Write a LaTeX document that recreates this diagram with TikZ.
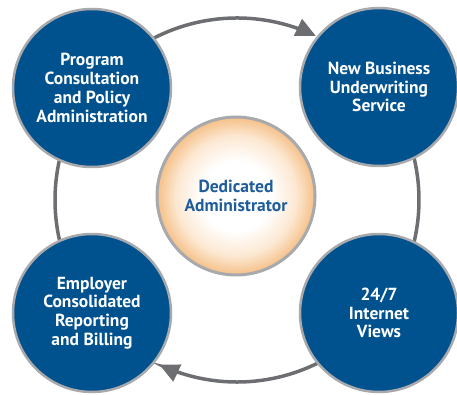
\documentclass[tikz,border=0pt]{standalone}
\usepackage{fontspec}
\setmainfont{PT Sans}
\usetikzlibrary{arrows.meta}
\definecolor{bluefill}{HTML}{00528F}
\definecolor{rimgray}{HTML}{A7A9AC}
\definecolor{ringgray}{HTML}{6D6E71}
\definecolor{centertext}{HTML}{1F5C9C}
\definecolor{glow}{HTML}{F5C088}
\definecolor{glowmid}{HTML}{FCE8D2}
\pgfdeclareradialshading{glowshade}{\pgfpoint{0bp}{0bp}}{color(0bp)=(white); color(11bp)=(white); color(19bp)=(glowmid); color(25bp)=(glow); color(50bp)=(glow)}
\tikzset{
  bluecircle/.style={circle, fill=bluefill, draw=rimgray, line width=2.5pt, minimum size=158pt, inner sep=0pt, text=white, align=center, font=\bfseries\fontsize{17.5}{18.8}\selectfont},
  centercircle/.style={circle, shading=glowshade, draw=rimgray, line width=3pt, minimum size=158pt, inner sep=0pt, text=centertext, align=center, font=\bfseries\fontsize{17.5}{19.5}\selectfont},
  ringline/.style={draw=ringgray, line width=3.5pt},
  ringarrow/.style={ringline, -{Triangle[length=20pt,width=18pt]}}
}
\begin{document}
\begin{tikzpicture}[x=1pt,y=1pt]
\useasboundingbox (0,0) rectangle (457,-395);
\coordinate (C) at (237,-200);
% ring arcs
\draw[ringline] (C) ++(142:182) arc[start angle=142, end angle=67, radius=182] coordinate (t1);
\draw[ringarrow] (t1) arc[start angle=67, end angle=64.3, radius=182];
\draw[ringline] (C) ++(38.5:182) arc[start angle=38.5, end angle=-38.5, radius=182];
\draw[ringline] (C) ++(-38.5:182) arc[start angle=-38.5, end angle=-112, radius=182] coordinate (t2);
\draw[ringarrow] (t2) arc[start angle=-112, end angle=-115.3, radius=182];
\draw[ringline] (C) ++(218.5:182) arc[start angle=218.5, end angle=141.5, radius=182];
% nodes
\node[centercircle] (center) at (236,-196) {Dedicated\\Administrator};
\node[bluecircle] (tl) at (92,-88) {Program\\Consultation\\and Policy\\Administration};
\node[bluecircle] (tr) at (379,-87) {New Business\\Underwriting\\Service};
\node[bluecircle] (bl) at (92,-313) {Employer\\Consolidated\\Reporting\\and Billing};
\node[bluecircle] (br) at (379,-313) {24/7\\Internet\\Views};
\end{tikzpicture}
\end{document}
